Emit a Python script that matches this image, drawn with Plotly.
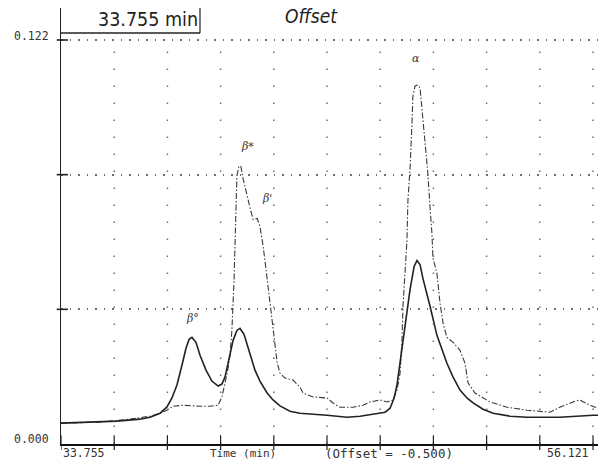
import plotly.graph_objects as go

# ---------------- data ----------------
t_solid = [33.755, 34.97, 36.11, 37.08, 37.50, 37.92, 38.21, 38.42, 38.63, 38.84,
           39.01, 39.14, 39.26, 39.43, 39.60, 39.85, 40.10, 40.36, 40.52, 40.65,
           40.82, 40.99, 41.15, 41.28, 41.45, 41.70, 41.91, 42.12, 42.42, 42.67,
           42.96, 43.38, 43.80, 44.94, 45.78, 46.33, 46.87, 47.38, 47.59, 47.76,
           47.88, 48.01, 48.22, 48.43, 48.60, 48.72, 48.85, 48.97, 49.27, 49.56,
           49.98, 50.24, 50.53, 50.82, 51.08, 51.50, 51.92, 52.63, 53.35, 54.73,
           56.12, 56.33]
a_solid = [0.0063, 0.0066, 0.0069, 0.0075, 0.0081, 0.0093, 0.0112, 0.0139, 0.0178, 0.0238,
           0.0289, 0.0316, 0.0322, 0.0307, 0.0268, 0.0223, 0.0190, 0.0175, 0.0181, 0.0202,
           0.0262, 0.0313, 0.0343, 0.0349, 0.0331, 0.0268, 0.0223, 0.0190, 0.0154, 0.0133,
           0.0115, 0.0099, 0.0093, 0.0087, 0.0081, 0.0084, 0.0090, 0.0096, 0.0108, 0.0139,
           0.0178, 0.0247, 0.0359, 0.0467, 0.0536, 0.0554, 0.0542, 0.0500, 0.0416, 0.0328,
           0.0244, 0.0202, 0.0163, 0.0139, 0.0124, 0.0105, 0.0093, 0.0084, 0.0081, 0.0081,
           0.0087, 0.0087]

t_offset = [33.755, 35.40, 36.66, 37.50, 37.92, 38.21, 38.46, 38.88, 39.60, 40.02,
            40.36, 40.52, 40.65, 40.78, 40.86, 40.94, 41.03, 41.07, 41.11, 41.15,
            41.24, 41.32, 41.41, 41.58, 41.70, 41.83, 42.00, 42.12, 42.25, 42.37,
            42.50, 42.63, 42.71, 42.84, 42.96, 43.17, 43.51, 43.80, 43.93, 44.35,
            44.94, 45.19, 45.48, 46.03, 46.45, 46.75, 47.17, 47.46, 47.71, 47.88,
            48.01, 48.09, 48.13, 48.22, 48.30, 48.34, 48.43, 48.51, 48.55, 48.64,
            48.76, 48.85, 48.93, 49.06, 49.18, 49.27, 49.35, 49.39, 49.56, 49.69,
            49.82, 49.98, 50.24, 50.53, 50.74, 50.87, 51.16, 51.79, 52.51, 53.35,
            54.31, 54.73, 55.28, 55.57, 56.00, 56.33]
a_offset = [0.0063, 0.0066, 0.0075, 0.0084, 0.0093, 0.0102, 0.0114, 0.0117, 0.0114, 0.0114,
            0.0117, 0.0142, 0.0184, 0.0229, 0.0268, 0.0343, 0.0494, 0.0615, 0.0735, 0.0810,
            0.0840, 0.0837, 0.0801, 0.0744, 0.0714, 0.0678, 0.0681, 0.0657, 0.0599, 0.0530,
            0.0449, 0.0374, 0.0313, 0.0247, 0.0214, 0.0199, 0.0193, 0.0172, 0.0154, 0.0142,
            0.0139, 0.0124, 0.0111, 0.0111, 0.0117, 0.0127, 0.0133, 0.0127, 0.0133, 0.0163,
            0.0214, 0.0313, 0.0413, 0.0515, 0.0615, 0.0735, 0.0834, 0.0967, 0.1051, 0.1081,
            0.1084, 0.1075, 0.1015, 0.0916, 0.0816, 0.0714, 0.0636, 0.0563, 0.0515, 0.0425,
            0.0364, 0.0322, 0.0307, 0.0283, 0.0244, 0.0184, 0.0154, 0.0127, 0.0111, 0.0102,
            0.0096, 0.0111, 0.0127, 0.0133, 0.0117, 0.0108]

t_start, t_end = 33.755, 56.121
x_ticks = [t_start + k * (t_end - t_start) / 10 for k in range(11)]
y_max = 0.122
y_ticks = [0.0, y_max / 3, 2 * y_max / 3, y_max]
x_labels = ["33.755", "56.121"]
y_labels = ["0.000", "0.122"]
axis_titles = ["Time (min)", "(Offset = -0.500)"]
header = ["33.755 min", "Offset"]
peak_names = ["β°", "β*", "β'", "α"]
peak_t = [39.30, 41.58, 42.42, 48.68]
peak_a = [0.0380, 0.0898, 0.0741, 0.1163]

# ---------------- figure ----------------
ink = "#222222"
grey = "#6e6e6e"
mono = "DejaVu Sans Mono, monospace"
narrow = "Liberation Sans Narrow, DejaVu Sans Condensed, Roboto Condensed, Liberation Sans, sans-serif"

fig = go.Figure()
fig.add_trace(go.Scatter(x=t_offset, y=a_offset, mode="lines",
                         line=dict(color="#3a3a3a", width=1.1, dash="6px,2px,1.5px,2px"),
                         showlegend=False, hoverinfo="skip"))
fig.add_trace(go.Scatter(x=t_solid, y=a_solid, mode="lines",
                         line=dict(color=ink, width=1.6),
                         showlegend=False, hoverinfo="skip"))

L, R, T, B = 61, 0, 8, 20
W, H = 598, 464
pw = W - L - R
ph = H - T - B
px_per_min = (pw - 5) / (t_end - t_start)
x_hi = t_start + pw / px_per_min
y_hi = y_max * ph / (ph - 32)

shapes = []
for xv in x_ticks[1:]:
    shapes.append(dict(type="line", xref="x", yref="y", x0=xv, x1=xv, y0=0, y1=y_max,
                       line=dict(color=grey, width=1.5, dash="1.5px,15.5px")))
for xv in x_ticks:
    shapes.append(dict(type="line", xref="x", yref="paper", x0=xv, x1=xv, y0=-0.014, y1=0.02,
                       line=dict(color=ink, width=1.2)))
for yv in y_ticks[1:]:
    shapes.append(dict(type="line", xref="paper", yref="y", x0=-0.008, x1=0.013, y0=yv, y1=yv,
                       line=dict(color=ink, width=1.6)))
yh = 1 - 25 / ph
shapes.append(dict(type="line", xref="paper", yref="paper", x0=0, x1=139 / pw, y0=yh, y1=yh,
                   line=dict(color=ink, width=1.6)))
shapes.append(dict(type="line", xref="paper", yref="paper", x0=139 / pw, x1=139 / pw, y0=yh, y1=1.0,
                   line=dict(color=ink, width=1.2)))

def note(text, x, y, xanchor="center", size=11.5, family=mono, color="#333", xref="paper", yref="paper"):
    return dict(text=text, xref=xref, yref=yref, x=x, y=y, xanchor=xanchor, yanchor="middle",
                showarrow=False, font=dict(family=family, size=size, color=color))

ann = [
    note(x_labels[0], 0, -9 / ph, "left"),
    note(x_labels[1], (591 - L) / pw, -9 / ph, "right"),
    note(axis_titles[0], (243 - L) / pw, -9 / ph, "center", 11),
    note(axis_titles[1], (389 - L) / pw, -9 / ph, "center", 12.5),
    note(y_labels[0], -10 / pw, 5 / ph, "right"),
    note(y_labels[1], -10 / pw, 1 - 28 / ph, "right"),
    note(header[0], (148 - L) / pw, 1 - 11 / ph, "center", 19.5, narrow, ink),
    note("<i>" + header[1] + "</i>", (311 - L) / pw, 1 - 8 / ph, "center", 19, narrow, ink),
]
for name, tx, ay in zip(peak_names, peak_t, peak_a):
    ann.append(note("<i>" + name + "</i>", tx, ay, "center", 11, "DejaVu Serif, serif", "#333", "x", "y"))

fig.update_layout(
    width=W, height=H,
    margin=dict(l=L, r=R, t=T, b=B, pad=0),
    paper_bgcolor="white", plot_bgcolor="white",
    shapes=shapes, annotations=ann,
    xaxis=dict(range=[t_start, x_hi], showgrid=False, zeroline=False,
               showline=True, linecolor="#111", linewidth=2.2,
               tickvals=x_ticks, showticklabels=False, ticks=""),
    yaxis=dict(range=[0, y_hi], tickvals=y_ticks[1:], showticklabels=False, ticks="",
               showgrid=True, gridcolor=grey, gridwidth=1.5, griddash="1.5px,7px",
               zeroline=False, showline=True, linecolor="#222", linewidth=1.4),
)

fig.write_html("out.html", config={"displayModeBar": False},
               post_script="document.body.style.margin='0px';document.body.style.overflow='hidden';")
